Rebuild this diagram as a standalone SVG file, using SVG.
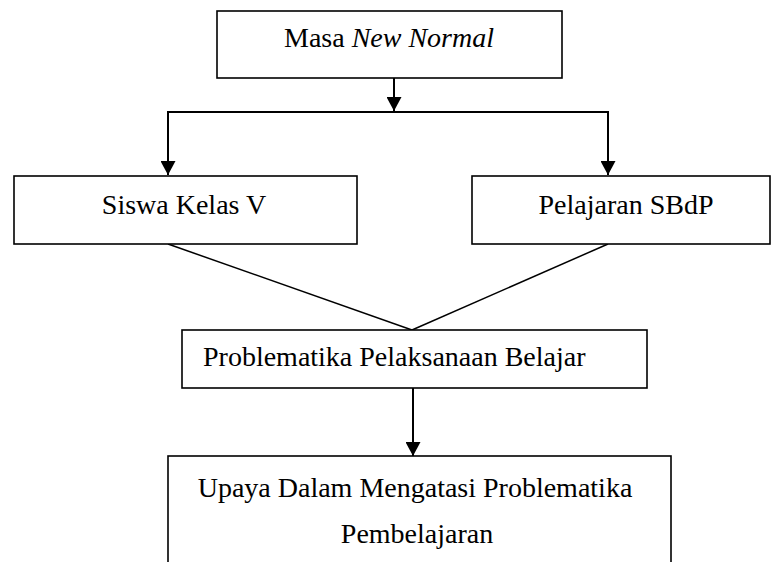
<svg xmlns="http://www.w3.org/2000/svg" width="771" height="562" viewBox="0 0 771 562">
<style>
.box{fill:#fff;stroke:#000;stroke-width:1.6}
.t{font-family:"Liberation Serif","Times New Roman",serif;font-size:28px;fill:#000}
.c{fill:none;stroke:#000;stroke-width:2}
.d{fill:none;stroke:#000;stroke-width:1.5}
</style>
<defs>
<marker id="ah" viewBox="0 0 14 15" refX="14" refY="7.5" markerWidth="14" markerHeight="15" markerUnits="userSpaceOnUse" orient="auto">
<path d="M0,0 L14,7.5 L0,15 Z" fill="#000"/>
</marker>
</defs>
<g id="connectors">
<line class="c" x1="394" y1="78" x2="394" y2="111" marker-end="url(#ah)"/>
<polyline class="c" points="394,112 168,112 168,175" marker-end="url(#ah)"/>
<polyline class="c" points="394,112 608,112 608,175" marker-end="url(#ah)"/>
<line class="d" x1="168" y1="244" x2="412" y2="330"/>
<line class="d" x1="608" y1="244" x2="412" y2="330"/>
<line class="c" x1="413" y1="388" x2="413" y2="456" marker-end="url(#ah)"/>
</g>
<g id="n1"><rect class="box" x="217" y="11" width="345" height="67"/>
<text class="t" x="389" y="47" text-anchor="middle">Masa <tspan font-style="italic">New Normal</tspan></text></g>
<g id="n2"><rect class="box" x="14" y="176" width="343" height="68"/>
<text class="t" x="184" y="214" text-anchor="middle">Siswa Kelas V</text></g>
<g id="n3"><rect class="box" x="472" y="176" width="298" height="68"/>
<text class="t" x="626" y="214" text-anchor="middle">Pelajaran SBdP</text></g>
<g id="n4"><rect class="box" x="182" y="330" width="465" height="58"/>
<text class="t" x="203" y="366">Problematika Pelaksanaan Belajar</text></g>
<g id="n5"><rect class="box" x="168" y="456" width="503" height="120"/>
<text class="t" x="415" y="497" text-anchor="middle">Upaya Dalam Mengatasi Problematika</text>
<text class="t" x="417" y="543" text-anchor="middle">Pembelajaran</text></g>
</svg>
